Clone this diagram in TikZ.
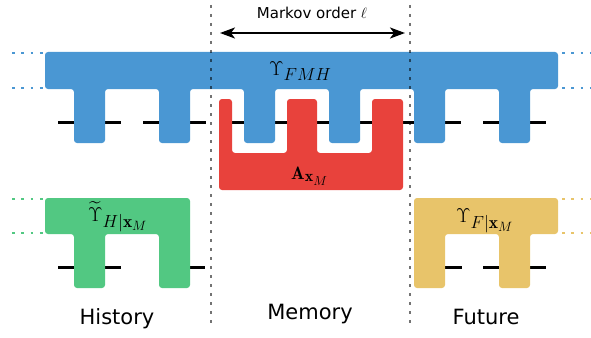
\RequirePackage{fix-cm}
\documentclass[tikz,border=0pt]{standalone}
\usepackage{amsmath}
\usepackage{fontspec}
\setsansfont{DejaVu Sans}
\DeclareMathSizes{20}{20}{17.5}{13.5}
\DeclareMathSizes{18}{18}{16}{13}
\usetikzlibrary{arrows.meta}
\definecolor{cblue}{HTML}{4A97D3}
\definecolor{cred}{HTML}{E8423C}
\definecolor{cgreen}{HTML}{52C882}
\definecolor{cyellow}{HTML}{E8C46A}
\tikzset{
  wire/.style={line width=3pt, black},
  blockshape/.style={rounded corners=3pt},
  sepline/.style={line width=2.6pt, black, opacity=0.55, dash pattern=on 2.6pt off 6.4pt},
  extline/.style={line width=2.6pt, dash pattern=on 2.6pt off 6.7pt},
  sectlabel/.style={font=\sffamily\fontsize{21}{24}\selectfont, anchor=base},
  mathlabel/.style={font=\fontsize{20}{24}\selectfont, anchor=base west, inner sep=0pt},
}
\begin{document}
\begin{tikzpicture}[x=1pt,y=-1pt]
\useasboundingbox (0,0) rectangle (591,337);
% wires
\foreach \a in {58,143,228,313,398,483}
  \draw[wire] (\a,122) -- ++(63,0);
\draw[wire] (58,267) -- (121,267);
\draw[wire] (190,267) -- (205,267);
\draw[wire] (445,267) -- (462,267);
\draw[wire] (483,267) -- (546,267);
% blue comb
\fill[cblue, blockshape] (45,52) -- (558,52) -- (558,89)
  -- (530,89) -- (530,143) -- (499,143) -- (499,89)
  -- (445,89) -- (445,143) -- (414,143) -- (414,89)
  -- (360,89) -- (360,143) -- (329,143) -- (329,89)
  -- (275,89) -- (275,143) -- (244,143) -- (244,89)
  -- (190,89) -- (190,143) -- (159,143) -- (159,89)
  -- (105,89) -- (105,143) -- (74,143) -- (74,89)
  -- (45,89) -- cycle;
% red comb
\fill[cred, blockshape] (219,99) -- (232,99) -- (232,153) -- (287,153) -- (287,99)
  -- (317,99) -- (317,153) -- (372,153) -- (372,99) -- (403,99)
  -- (403,190) -- (219,190) -- cycle;
% green comb
\fill[cgreen, blockshape] (45,198) -- (190,198) -- (190,288) -- (159,288) -- (159,234)
  -- (105,234) -- (105,288) -- (74,288) -- (74,234) -- (45,234) -- cycle;
% yellow comb
\fill[cyellow, blockshape] (414,198) -- (558,198) -- (558,234) -- (530,234) -- (530,288)
  -- (499,288) -- (499,234) -- (445,234) -- (445,288) -- (414,288) -- cycle;
% extension dots
\draw[extline, cblue] (12,53) -- (44,53);
\draw[extline, cblue] (12,88) -- (44,88);
\draw[extline, cblue] (562,53) -- (593,53);
\draw[extline, cblue] (562,88) -- (593,88);
\draw[extline, cgreen] (12,199) -- (44,199);
\draw[extline, cgreen] (12,233) -- (44,233);
\draw[extline, cyellow] (562,199) -- (593,199);
\draw[extline, cyellow] (562,233) -- (593,233);
% labels
\node[mathlabel] (ufmh) at (269,75) {$\Upsilon_{FMH}$};
\node[mathlabel, font=\fontsize{18}{22}\selectfont] (ax) at (291,179) {$\mathbf{A}_{\mathbf{x}_M}$};
\node[mathlabel] (uh) at (88,221) {$\widetilde{\Upsilon}_{H|\mathbf{x}_M}$};
\node[mathlabel] (uf) at (456,222) {$\Upsilon_{F|\mathbf{x}_M}$};
\node[sectlabel] (hist) at (117,324) {History};
\node[sectlabel] (mem) at (310,319) {Memory};
\node[sectlabel] (fut) at (486,324) {Future};
\node[font=\sffamily\fontsize{15}{18}\selectfont, anchor=base] (mo) at (312,19) {Markov order $\ell$};
% arrow
\coordinate (al) at (220,33);
\coordinate (ar) at (405,33);
\draw[line width=2pt, {Stealth[length=15pt,width=11pt,inset=4pt]}-{Stealth[length=15pt,width=11pt,inset=4pt]}] (al) -- (ar);
% separators
\coordinate (s1t) at (211,5);
\coordinate (s1b) at (211,327);
\coordinate (s2t) at (410,5);
\coordinate (s2b) at (410,327);
\draw[sepline] (s1t) -- (s1b);
\draw[sepline] (s2t) -- (s2b);
\end{tikzpicture}
\end{document}
